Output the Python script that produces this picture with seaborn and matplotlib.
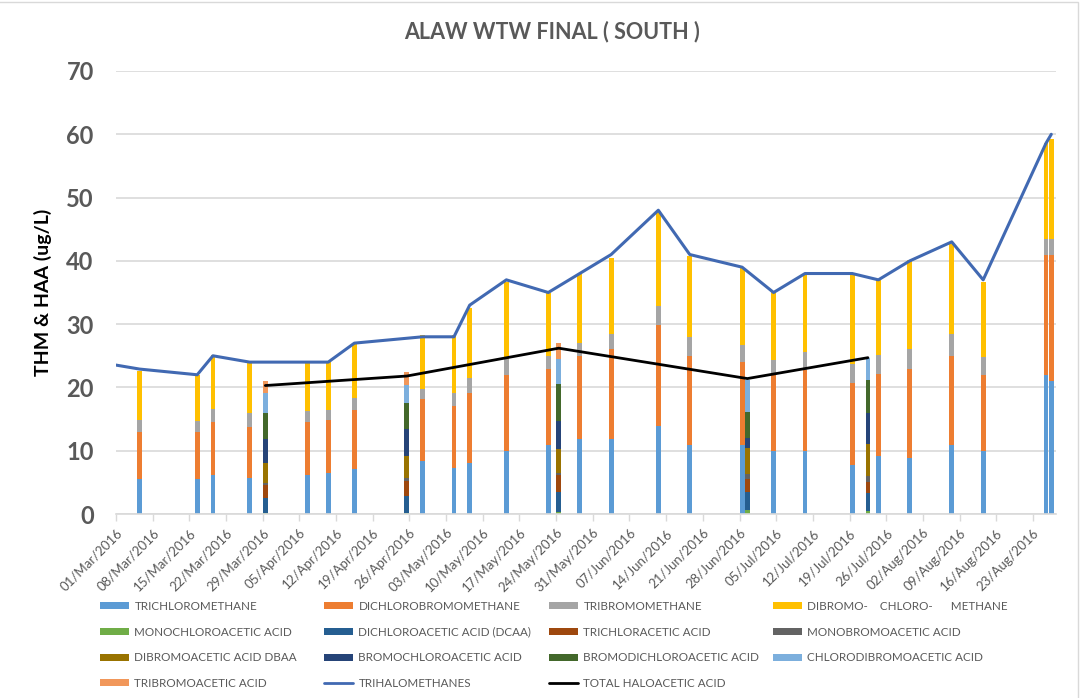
import numpy as np
import pandas as pd
import matplotlib
matplotlib.use("Agg")
import matplotlib.pyplot as plt
import matplotlib.dates as mdates
from matplotlib.patches import Patch, Rectangle
from matplotlib.lines import Line2D
import seaborn as sns

# ---------------- data ----------------
thm_dates = ["2016-03-05", "2016-03-16", "2016-03-19", "2016-03-26", "2016-04-06", "2016-04-10",
             "2016-04-15", "2016-04-28", "2016-05-04", "2016-05-07", "2016-05-14", "2016-05-22",
             "2016-05-28", "2016-06-03", "2016-06-12", "2016-06-18", "2016-06-28", "2016-07-04",
             "2016-07-10", "2016-07-19", "2016-07-24", "2016-07-30", "2016-08-07", "2016-08-13",
             "2016-08-25", "2016-08-26"]
trichloromethane = [5.5, 5.5, 6.2, 5.7, 6.2, 6.4, 7.1, 8.4, 7.2, 8.1, 9.9, 10.9, 11.9, 11.9, 13.9,
                    10.9, 10.9, 9.9, 9.9, 7.7, 9.2, 8.9, 10.9, 9.9, 22.0, 21.0]
dichlorobromomethane = [7.5, 7.4, 8.3, 8.0, 8.3, 8.5, 9.4, 9.7, 9.9, 11.0, 12.1, 12.0, 13.1, 14.1,
                        16.0, 14.1, 13.1, 12.3, 12.8, 13.0, 13.0, 14.0, 14.1, 12.1, 18.9, 19.9]
tribromomethane = [1.9, 1.8, 2.1, 2.2, 1.8, 1.5, 1.8, 1.7, 2.0, 2.4, 2.5, 2.1, 2.0, 2.4, 3.0,
                   2.9, 2.7, 2.1, 2.9, 3.0, 2.9, 3.2, 3.5, 2.8, 2.6, 2.6]
dibromochloromethane = [7.7, 7.3, 8.5, 8.2, 7.8, 7.7, 8.6, 8.5, 9.2, 11.0, 12.2, 10.0, 10.9, 12.1,
                        14.9, 12.9, 12.1, 10.7, 12.1, 14.0, 11.8, 14.0, 14.1, 11.9, 15.1, 15.8]

haa_dates = ["2016-03-29", "2016-04-25", "2016-05-24", "2016-06-29", "2016-07-22"]
monochloroacetic = [0.1, 0.1, 0.3, 0.6, 0.5]
dichloroacetic = [2.5, 2.7, 3.1, 2.8, 2.8]
trichloracetic = [2.0, 2.4, 2.7, 2.1, 1.8]
monobromoacetic = [0.35, 0.5, 0.4, 0.8, 0.9]
dibromoacetic = [3.15, 3.5, 3.8, 4.2, 5.05]
bromochloroacetic = [3.7, 4.2, 4.4, 1.5, 4.9]
bromodichloroacetic = [4.2, 4.1, 5.8, 4.1, 5.25]
chlorodibromoacetic = [3.1, 2.9, 4.0, 5.1, 3.4]
tribromoacetic = [1.9, 2.0, 2.5, 0.0, 0.0]

thm_line_dates = ["2016-02-29"] + thm_dates
thm_line_values = [23.6, 22.9, 22.0, 25.0, 24.0, 24.0, 24.0, 27.0, 28.0, 28.0, 33.0, 37.0, 35.0,
                   38.0, 41.0, 48.0, 41.0, 39.0, 35.0, 38.0, 38.0, 37.0, 40.0, 43.0, 37.0, 58.6, 60.0]
haa_line_values = [20.3, 21.8, 26.2, 21.4, 24.7]

thm_labels = ["TRICHLOROMETHANE", "DICHLOROBROMOMETHANE", "TRIBROMOMETHANE",
              "DIBROMO-    CHLORO-      METHANE"]
haa_labels = ["MONOCHLOROACETIC ACID", "DICHLOROACETIC ACID (DCAA)", "TRICHLORACETIC ACID",
              "MONOBROMOACETIC ACID", "DIBROMOACETIC ACID DBAA", "BROMOCHLOROACETIC ACID",
              "BROMODICHLOROACETIC ACID", "CHLORODIBROMOACETIC ACID", "TRIBROMOACETIC ACID"]
line_labels = ["TRIHALOMETHANES", "TOTAL HALOACETIC ACID"]

thm_colors = ["#5B9BD5", "#ED7D31", "#A5A5A5", "#FFC000"]
haa_colors = ["#70AD47", "#255E91", "#9E480E", "#636363", "#997300", "#264478",
              "#43682B", "#7CAFDD", "#F1975A"]
thm_line_color = "#4169B2"
haa_line_color = "#000000"

tick_dates = pd.date_range("2016-03-01", "2016-08-23", freq="7D")

# ---------------- plot ----------------
sns.set_theme(style="white")
plt.rcParams['font.family'] = ['Lato', 'DejaVu Sans']
TXT = "#595959"

W, H = 1084, 698
fig = plt.figure(figsize=(W / 100, H / 100), dpi=100)
ax = fig.add_axes([116 / W, 1 - 514 / H, (1056 - 116) / W, (514 - 71) / H])

half_day = 0.5


def to_num(ds):
    return mdates.date2num(pd.to_datetime(ds).to_pydatetime()) + half_day


thm_x = to_num(thm_dates)
haa_x = to_num(haa_dates)

bottom = np.zeros(len(thm_x))
for vals, col in zip([trichloromethane, dichlorobromomethane, tribromomethane, dibromochloromethane],
                     thm_colors):
    ax.bar(thm_x, vals, bottom=bottom, width=0.9, color=col, linewidth=0, zorder=2)
    bottom += np.array(vals)

bottom = np.zeros(len(haa_x))
for vals, col in zip([monochloroacetic, dichloroacetic, trichloracetic, monobromoacetic,
                      dibromoacetic, bromochloroacetic, bromodichloroacetic,
                      chlorodibromoacetic, tribromoacetic], haa_colors):
    ax.bar(haa_x, vals, bottom=bottom, width=0.9, color=col, linewidth=0, zorder=2)
    bottom += np.array(vals)

thm_df = pd.DataFrame({"x": to_num(thm_line_dates), "y": thm_line_values})
haa_df = pd.DataFrame({"x": haa_x, "y": haa_line_values})
sns.lineplot(data=thm_df, x="x", y="y", ax=ax, color=thm_line_color, linewidth=2.2,
             legend=False, zorder=3)
sns.lineplot(data=haa_df, x="x", y="y", ax=ax, color=haa_line_color, linewidth=2.0,
             legend=False, zorder=3)

x0 = mdates.date2num(pd.Timestamp("2016-03-01").to_pydatetime())
ax.set_xlim(x0, x0 + 179.4)
ax.set_ylim(0, 70)
ax.set_yticks(np.arange(0, 71, 10))
ax.yaxis.grid(True, color="#D9D9D9", linewidth=1.2)
ax.set_axisbelow(True)
for s in ["top", "right", "left"]:
    ax.spines[s].set_visible(False)
ax.spines["bottom"].set_color("#D9D9D9")
ax.spines["bottom"].set_linewidth(1.2)

ax.set_xticks(mdates.date2num(tick_dates.to_pydatetime()))
ax.set_xticklabels([d.strftime("%d/%b/%Y") for d in tick_dates], rotation=45, ha="right",
                   rotation_mode="anchor", fontsize=9.5, color=TXT)
ax.tick_params(axis="x", which="major", direction="out", length=5, width=1, color="#D9D9D9",
               pad=4, bottom=True)
ax.tick_params(axis="y", length=0, pad=16)
for lab in ax.get_yticklabels():
    lab.set_fontsize(17)
    lab.set_fontweight("bold")
    lab.set_color(TXT)

ax.set_xlabel("")
ax.set_ylabel("THM & HAA (ug/L)", fontsize=14, fontweight="bold", color="black", labelpad=10)

fig.text(552 / W, 1 - 32 / H, "ALAW WTW FINAL ( SOUTH )", ha="center", va="center",
         fontsize=15.5, fontweight="bold", color=TXT)

# legend, row-wise in 4 columns
handles = [Patch(facecolor=c, edgecolor="none") for c in thm_colors]
handles += [Patch(facecolor=c, edgecolor="none") for c in haa_colors]
handles += [Line2D([], [], color=thm_line_color, lw=2), Line2D([], [], color=haa_line_color, lw=2)]
labels = thm_labels + haa_labels + line_labels
col_x = [100, 324, 549, 773]
for c in range(4):
    idx = list(range(c, len(labels), 4))
    leg = fig.legend([handles[i] for i in idx], [labels[i] for i in idx],
                     loc="upper left", bbox_to_anchor=(col_x[c] / W, 1 - 601 / H),
                     frameon=False, fontsize=8.4, handlelength=2.5, handleheight=0.55,
                     handletextpad=0.45, labelspacing=1.25, borderpad=0, borderaxespad=0)
    for t in leg.get_texts():
        t.set_color(TXT)

fig.patches.append(Rectangle((-0.01, -0.01), 1078 / W + 0.01, 1 - 2 / H + 0.01,
                             transform=fig.transFigure, fill=False, edgecolor="#D9D9D9", lw=1))

fig.savefig("out.png", dpi=100)
